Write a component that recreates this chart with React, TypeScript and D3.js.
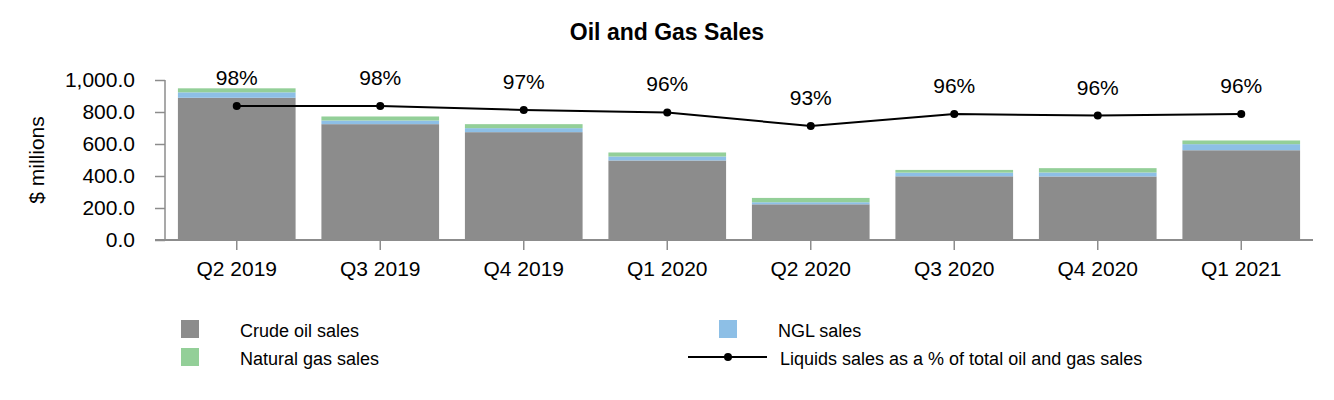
import React, { useEffect, useRef } from 'react';
import * as d3 from 'd3';

const quarters = ['Q2 2019', 'Q3 2019', 'Q4 2019', 'Q1 2020', 'Q2 2020', 'Q3 2020', 'Q4 2020', 'Q1 2021'];
const crudeOil = [889, 724, 674, 497, 223, 398, 397, 561];
const nglSales = [34, 23, 25, 25, 13, 23, 25, 38];
const naturalGas = [25, 25, 25, 25, 27, 17, 27, 23];
const liquidsPct = [98.0, 98.0, 97.0, 96.4, 93.0, 96.0, 95.6, 96.0];
const yTicks = [0, 200, 400, 600, 800, 1000];

const seriesKeys = ['crude', 'ngl', 'gas'] as const;
const seriesColors: Record<string, string> = {
    crude: '#8c8c8c',
    ngl: '#8dbfe6',
    gas: '#93cf98',
};

const FONT = '"Liberation Sans", Arial, sans-serif';

export default function App() {
    const svgRef = useRef<SVGSVGElement>(null);

    useEffect(() => {
        document.body.style.margin = '0';
        if (!svgRef.current) return;
        const svg = d3.select(svgRef.current);
        svg.selectAll('*').remove();

        const rows = quarters.map((q, i) => ({
            quarter: q,
            crude: crudeOil[i],
            ngl: nglSales[i],
            gas: naturalGas[i],
            pct: liquidsPct[i],
        }));

        const x = d3.scaleBand<string>()
            .domain(quarters)
            .range([165, 1313])
            .paddingInner(0.18)
            .paddingOuter(0.09);

        const y = d3.scaleLinear().domain([0, 1000]).range([240, 80]);
        // hidden secondary axis for the percentage line
        const yPct = d3.scaleLinear().domain([64.5, 104.5]).range([240, 80]);

        // Title
        svg.append('text')
            .attr('x', 667)
            .attr('y', 40)
            .attr('text-anchor', 'middle')
            .style('font-family', FONT)
            .style('font-size', '23px')
            .style('font-weight', 'bold')
            .text('Oil and Gas Sales');

        // Stacked bars
        const stack = d3.stack<any>().keys(seriesKeys as unknown as string[]);
        const layers = stack(rows);

        svg.append('g')
            .selectAll('g')
            .data(layers)
            .join('g')
            .attr('fill', d => seriesColors[d.key])
            .selectAll('rect')
            .data(d => d)
            .join('rect')
            .attr('x', d => x(d.data.quarter)!)
            .attr('width', x.bandwidth())
            .attr('y', d => y(d[1]))
            .attr('height', d => y(d[0]) - y(d[1]));

        // Axes
        const axisColor = '#8c8c8c';
        const yAxis = svg.append('g')
            .attr('transform', 'translate(165,0)')
            .call(d3.axisLeft(y).tickValues(yTicks).tickSize(10).tickPadding(20).tickFormat(d3.format(',.1f')));
        yAxis.select('.domain').remove();
        yAxis.selectAll('line').attr('stroke', axisColor).attr('stroke-width', 1.5);
        yAxis.selectAll('text')
            .style('font-family', FONT)
            .style('font-size', '21px')
            .attr('fill', '#000');
        yAxis.append('line')
            .attr('x1', 0).attr('x2', 0)
            .attr('y1', y(1000)).attr('y2', y(0))
            .attr('stroke', axisColor).attr('stroke-width', 1.5);

        const xAxis = svg.append('g')
            .attr('transform', 'translate(0,240)')
            .call(d3.axisBottom(x).tickSize(10).tickPadding(11));
        xAxis.select('.domain').remove();
        xAxis.selectAll('line').attr('stroke', axisColor).attr('stroke-width', 1.5);
        xAxis.selectAll('text')
            .style('font-family', FONT)
            .style('font-size', '21px')
            .attr('fill', '#000');
        xAxis.append('line')
            .attr('x1', 155).attr('x2', 1313)
            .attr('y1', 0).attr('y2', 0)
            .attr('stroke', axisColor).attr('stroke-width', 2);

        // Y axis title
        svg.append('text')
            .attr('transform', `translate(44,${(y(0) + y(1000)) / 2}) rotate(-90)`)
            .attr('text-anchor', 'middle')
            .style('font-family', FONT)
            .style('font-size', '21px')
            .text('$ millions');

        // Liquids % line
        const cx = (d: any) => x(d.quarter)! + x.bandwidth() / 2;
        const line = d3.line<any>().x(cx).y(d => yPct(d.pct));
        svg.append('path')
            .datum(rows)
            .attr('fill', 'none')
            .attr('stroke', '#000')
            .attr('stroke-width', 2)
            .attr('d', line);

        svg.append('g')
            .selectAll('circle')
            .data(rows)
            .join('circle')
            .attr('cx', cx)
            .attr('cy', d => yPct(d.pct))
            .attr('r', 4)
            .attr('fill', '#000');

        svg.append('g')
            .selectAll('text')
            .data(rows)
            .join('text')
            .attr('x', cx)
            .attr('y', d => yPct(d.pct) - 21)
            .attr('text-anchor', 'middle')
            .style('font-family', FONT)
            .style('font-size', '21px')
            .text(d => d3.format('.0f')(d.pct) + '%');

        // Legend
        const legend = svg.append('g').style('font-family', FONT).style('font-size', '18px');
        const legendItems = [
            { key: 'crude', label: 'Crude oil sales', x: 181, y: 320, tx: 240 },
            { key: 'gas', label: 'Natural gas sales', x: 181, y: 348, tx: 240 },
            { key: 'ngl', label: 'NGL sales', x: 719, y: 320, tx: 778 },
        ];
        legendItems.forEach(item => {
            legend.append('rect')
                .attr('x', item.x).attr('y', item.y)
                .attr('width', 18).attr('height', 18)
                .attr('fill', seriesColors[item.key]);
            legend.append('text')
                .attr('x', item.tx).attr('y', item.y + 16.5)
                .text(item.label);
        });
        legend.append('line')
            .attr('x1', 688).attr('x2', 767)
            .attr('y1', 357).attr('y2', 357)
            .attr('stroke', '#000').attr('stroke-width', 2);
        legend.append('circle')
            .attr('cx', 728).attr('cy', 357).attr('r', 4).attr('fill', '#000');
        legend.append('text')
            .attr('x', 780).attr('y', 364.5)
            .text('Liquids sales as a % of total oil and gas sales');
    }, []);

    return (
        <svg ref={svgRef} width={1334} height={400} style={{ display: 'block', background: '#fff' }} />
    );
}
